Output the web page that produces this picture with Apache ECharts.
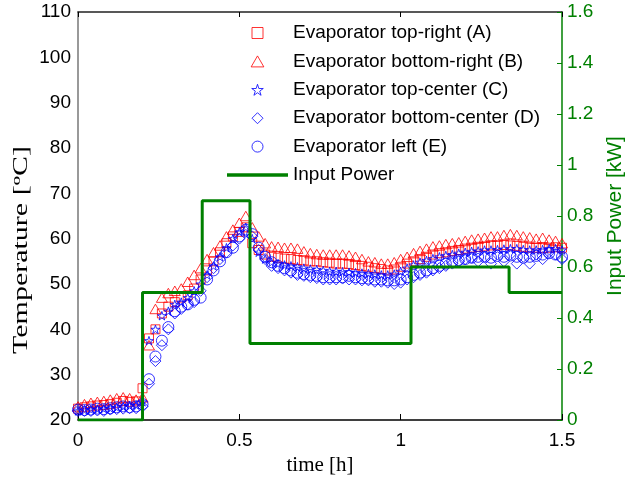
<!DOCTYPE html>
<html><head><meta charset="utf-8">
<script src="https://cdn.jsdelivr.net/npm/echarts@6/dist/echarts.min.js"></script>
<style>html,body{margin:0;padding:0;background:#fff;overflow:hidden}#c{width:626px;height:480px}</style>
</head><body><div id="c"></div><script>
const time = [0,0.02,0.04,0.06,0.08,0.1,0.12,0.14,0.16,0.18,0.2,0.22,0.24,0.26,0.28,0.3,0.32,0.34,0.36,0.38,0.4,0.42,0.44,0.46,0.48,0.5,0.52,0.54,0.56,0.58,0.6,0.62,0.64,0.66,0.68,0.7,0.72,0.74,0.76,0.78,0.8,0.82,0.84,0.86,0.88,0.9,0.92,0.94,0.96,0.98,1.0,1.02,1.04,1.06,1.08,1.1,1.12,1.14,1.16,1.18,1.2,1.22,1.24,1.26,1.28,1.3,1.32,1.34,1.36,1.38,1.4,1.42,1.44,1.46,1.48,1.5];
const topRightA = [22.5,22.8,23.0,23.2,23.3,23.5,23.8,24.2,24.0,24.1, 27.0,38.0,40.0,43.5,45.0,46.0,47.0,47.5,49.0,51.0, 53.0,55.0,57.0,59.0,60.5,61.5,62.5,59.0,57.5,56.5, 56.0,55.8,55.6,55.5,55.3,55.2,55.0,55.0,54.8,54.7, 54.5,54.5,54.4,54.2,54.0,53.8,53.5,53.3,53.0,53.2, 53.8,54.5,55.0,55.5,56.0,56.5,56.8,57.0,57.3,57.5, 57.8,58.0,58.2,58.3,58.5,58.5,58.6,58.5,58.4,58.2, 58.0,58.0,57.9,58.0,58.1,58.0];
const bottomRightB = [23.0,23.5,23.8,24.0,24.2,24.5,24.8,25.0,24.8,24.5, 25.0,36.5,44.5,47.0,48.0,48.5,49.0,50.5,52.0,53.5, 55.5,57.0,58.5,60.5,62.0,63.5,65.0,62.5,60.5,59.0, 58.3,58.2,58.0,58.0,57.8,57.2,56.8,56.6,56.5,56.5, 56.5,56.5,56.3,56.0,55.5,55.0,54.8,54.5,54.5,54.8, 55.5,56.0,56.8,57.3,57.8,58.3,58.5,58.8,59.0,59.2, 59.5,59.8,60.0,60.2,60.5,60.5,60.8,61.0,60.8,60.5, 60.3,60.0,60.2,59.8,59.5,59.0];
const topCenterC = [22.0,22.2,22.3,22.4,22.5,22.6,22.8,23.0,23.2,23.3, 24.0,37.5,40.0,43.0,44.0,45.5,46.0,47.0,48.5,50.0, 52.0,54.0,56.0,58.0,60.0,61.5,62.5,60.0,57.0,55.5, 54.8,54.5,54.2,54.0,53.8,53.5,53.3,53.2,53.0,52.8, 52.8,52.7,52.6,52.5,52.4,52.3,52.2,52.0,52.0,52.2, 52.8,53.5,54.2,54.8,55.2,55.6,56.0,56.3,56.5,56.8, 57.0,57.2,57.3,57.5,57.5,57.6,57.7,57.8,57.8,57.6, 57.5,57.5,57.6,57.8,57.8,57.5];
const bottomCenterD = [22.0,22.0,22.0,22.1,22.0,22.3,22.4,22.5,22.6,22.6, 23.0,28.0,33.0,36.5,40.0,43.5,44.5,45.5,46.0,48.5, 51.5,53.5,55.5,57.0,58.5,60.0,61.5,60.5,57.5,55.5, 54.0,53.5,53.0,52.5,52.0,51.8,51.5,51.3,51.0,51.0, 51.0,51.2,51.0,51.0,50.8,50.8,50.5,50.5,50.3,50.0, 50.3,51.0,51.5,52.0,52.5,53.0,53.5,54.0,54.5,55.0, 55.5,55.8,55.0,56.0,54.5,56.5,55.0,56.5,54.5,56.0, 54.5,56.5,55.5,57.0,56.5,55.5];
const leftE = [22.3,22.2,22.3,22.5,22.4,22.6,22.8,23.0,22.8,23.0, 23.5,29.0,34.0,37.5,40.5,44.0,45.0,45.5,46.5,47.0, 51.0,53.0,55.0,57.0,58.0,60.5,62.0,61.0,58.0,56.0, 54.8,54.0,53.5,53.0,52.5,52.2,52.0,51.8,51.5,51.5, 51.5,51.5,51.8,51.5,51.3,51.2,51.0,51.0,50.8,50.8, 51.0,51.5,52.0,52.5,53.0,53.5,54.0,54.5,55.0,55.3, 55.5,55.8,56.0,56.0,55.8,56.2,56.0,56.3,56.0,55.8, 56.0,56.2,56.5,56.8,56.5,56.0];
const powerTime = [0,0.2,0.385,0.533,1.032,1.336,1.5];
const powerKW = [0,0.5,0.86,0.3,0.6,0.5,0.5];
const names = ['Evaporator top-right (A)','Evaporator bottom-right (B)','Evaporator top-center (C)','Evaporator bottom-center (D)','Evaporator left (E)','Input Power'];

const RED = '#ff0000', BLUE = '#0000ff', GREEN = '#008000';
const SQUARE = 'path://M-1,-1L1,-1L1,1L-1,1Z';
const TRI = 'path://M0,-1.15L1,0.58L-1,0.58Z';
const DIAM = 'path://M0,-1L1,0L0,1L-1,0Z';
const STAR = 'path://M0,-1L0.2245,-0.309L0.951,-0.309L0.363,0.118L0.588,0.809L0,0.382L-0.588,0.809L-0.363,0.118L-0.951,-0.309L-0.2245,-0.309Z';
const LINE_ICON = 'path://M0,0L61,0L61,3.5L0,3.5Z';
const SANS = "'Liberation Sans', Arial, sans-serif";

function pairs(xs, ys){ return xs.map((x,i)=>[x, ys[i]]); }
function scat(name, vals, symbol, size, color){
  return {name, type:'scatter', xAxisIndex:0, yAxisIndex:0, data:pairs(time, vals),
    symbol, symbolSize:size, symbolKeepAspect:true,
    itemStyle:{color:'rgba(0,0,0,0)', borderColor:color, borderWidth:1},
    emphasis:{disabled:true}, silent:true, animation:false};
}

const chart = echarts.init(document.getElementById('c'), null, {renderer:'canvas'});
chart.setOption({
  animation:false,
  backgroundColor:'#fff',
  grid:{left:78, right:64, top:12, bottom:60, containLabel:false, outerBoundsMode:'none'},
  legend:{
    orient:'vertical', left:227, top:23, padding:0, itemWidth:61, itemHeight:11, itemGap:8.4,
    symbolKeepAspect:true,
    data:[names[0],names[1],names[2],names[3],names[4],
          {name:names[5], icon:LINE_ICON, itemStyle:{color:GREEN, borderWidth:0}}],
    selectedMode:false,
    textStyle:{fontFamily:SANS, fontSize:19, color:'#000', lineHeight:20},
    itemStyle:{borderWidth:1}
  },
  xAxis:[
    {type:'value', position:'bottom', min:0, max:1.5, interval:0.5,
     name:'time [h]', nameLocation:'middle', nameGap:31,
     nameTextStyle:{fontFamily:"'Liberation Serif', 'Times New Roman', serif", fontSize:21, color:'#000'},
     axisLine:{onZero:false, lineStyle:{color:'#000', width:1.5}},
     axisTick:{inside:true, length:6, lineStyle:{color:'#000'}},
     axisLabel:{fontFamily:SANS, fontSize:19, color:'#000', margin:11},
     splitLine:{show:false}},
    {type:'value', position:'top', min:0, max:1.5, interval:0.5,
     axisLine:{onZero:false, lineStyle:{color:'#222', width:1.5}},
     axisTick:{inside:true, length:5, lineStyle:{color:'#000'}},
     axisLabel:{show:false}, splitLine:{show:false}}
  ],
  yAxis:[
    {type:'value', position:'left', min:20, max:110, interval:10,
     axisLine:{show:true, onZero:false, lineStyle:{color:'#777', width:1.5}},
     axisTick:{show:false},
     axisLabel:{fontFamily:SANS, fontSize:19, color:'#000', margin:7},
     splitLine:{show:false}},
    {type:'value', position:'right', min:0, max:1.6, interval:0.2,
     name:'Input Power [kW]', nameLocation:'middle', nameGap:43, nameRotate:90,
     nameTextStyle:{fontFamily:SANS, fontSize:21, color:GREEN},
     axisLine:{show:true, onZero:false, lineStyle:{color:GREEN, width:1.5}},
     axisTick:{show:true, inside:true, length:5, lineStyle:{color:GREEN}},
     axisLabel:{fontFamily:SANS, fontSize:19, color:GREEN, margin:5},
     splitLine:{show:false}}
  ],
  graphic:[
    {type:'text', x:22, y:250, rotation:Math.PI/2, scaleX:1.5, silent:true,
     style:{text:'Temperature [ºC]', font:"20px 'Liberation Serif', 'Times New Roman', serif", fill:'#000', textAlign:'center', textVerticalAlign:'middle'}}
  ],
  series:[
    scat(names[0], topRightA, SQUARE, 9, RED),
    scat(names[1], bottomRightB, TRI, 11, RED),
    scat(names[2], topCenterC, STAR, 9, BLUE),
    scat(names[3], bottomCenterD, DIAM, 11, BLUE),
    scat(names[4], leftE, 'circle', 11, BLUE),
    {name:names[5], type:'line', xAxisIndex:0, yAxisIndex:1, data:pairs(powerTime, powerKW),
     step:'end', symbol:'none', showSymbol:false, z:4, silent:true,
     lineStyle:{color:GREEN, width:3}, itemStyle:{color:GREEN}}
  ]
});
</script></body></html>
